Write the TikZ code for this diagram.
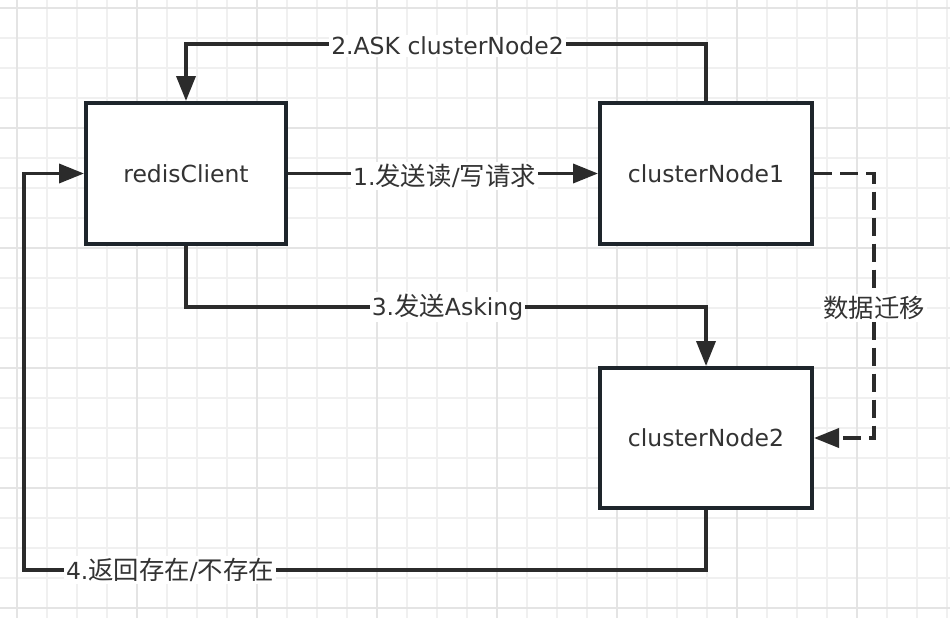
\documentclass[tikz,border=0pt]{standalone}
\usepackage{fontspec}
\setmainfont{DejaVu Sans}
\newfontfamily\cjk[Scale=1.08]{Noto Sans CJK SC}
\usetikzlibrary{arrows.meta,calc}
\definecolor{boxline}{HTML}{1E252B}
\definecolor{conline}{HTML}{2B2B2B}
\definecolor{txt}{HTML}{333333}
\definecolor{gridminor}{HTML}{F0F0F0}
\definecolor{gridmajor}{HTML}{E4E4E4}
\newcommand\zh[1]{{\cjk #1}}
\tikzset{
  x=1pt, y=-1pt,
  boxnode/.style={draw=boxline, line width=4pt, fill=white, inner sep=0pt,
    text=txt, font=\fontsize{23.5}{28}\selectfont},
  conn/.style={draw=conline, line width=3.6pt, -{Triangle[length=25pt,width=19pt]}},
  dconn/.style={conn, dash pattern=on 18pt off 8pt},
  lbl/.style={fill=white, text=txt, inner sep=2pt, font=\fontsize{23.5}{28}\selectfont},
  gminor/.style={draw=gridminor, line width=1.2pt},
  gmajor/.style={draw=gridmajor, line width=1.6pt}
}
\begin{document}
\begin{tikzpicture}
\useasboundingbox (0,0) rectangle (950,618);
\fill[white] (0,0) rectangle (950,618);
% grid
\foreach \gx in {17,47,...,947} {\draw[gminor] (\gx,0) -- (\gx,618);}
\foreach \gy in {8,38,...,608} {\draw[gminor] (0,\gy) -- (950,\gy);}
\foreach \gx in {17,137,...,857} {\draw[gmajor] (\gx,0) -- (\gx,618);}
\foreach \gy in {8,128,...,608} {\draw[gmajor] (0,\gy) -- (950,\gy);}
% boxes
\node[boxnode, minimum width=200pt, minimum height=141pt] (rc) at (186,173.5) {redisClient};
\node[boxnode, minimum width=212pt, minimum height=141pt] (n1) at (706,173.5) {clusterNode1};
\node[boxnode, minimum width=212pt, minimum height=140pt] (n2) at (706,438) {clusterNode2};
% connectors
\draw[conn] (rc.east) -- (n1.west);
\draw[conn] (n1.north) -- ++(0,-57) -| (rc.north);
\draw[conn] (rc.south) -- ++(0,61) -| (n2.north);
\draw[conn] (n2.south) -- ++(0,60) -| ($(rc.west)+(-60,0)$) -- (rc.west);
\draw[dconn] (n1.east) -- ++(60,0) |- (n2.east);
% labels
\node[lbl] (l1) at (444.5,176) {1.\zh{发送读}/\zh{写请求}};
\node[lbl] (l2) at (447.5,46) {2.ASK clusterNode2};
\node[lbl] (l3) at (447.5,307) {3.\zh{发送}Asking};
\node[lbl] (l4) at (170,570) {4.\zh{返回存在}/\zh{不存在}};
\node[lbl] (l5) at (874,308) {\zh{数据迁移}};
\end{tikzpicture}
\end{document}
